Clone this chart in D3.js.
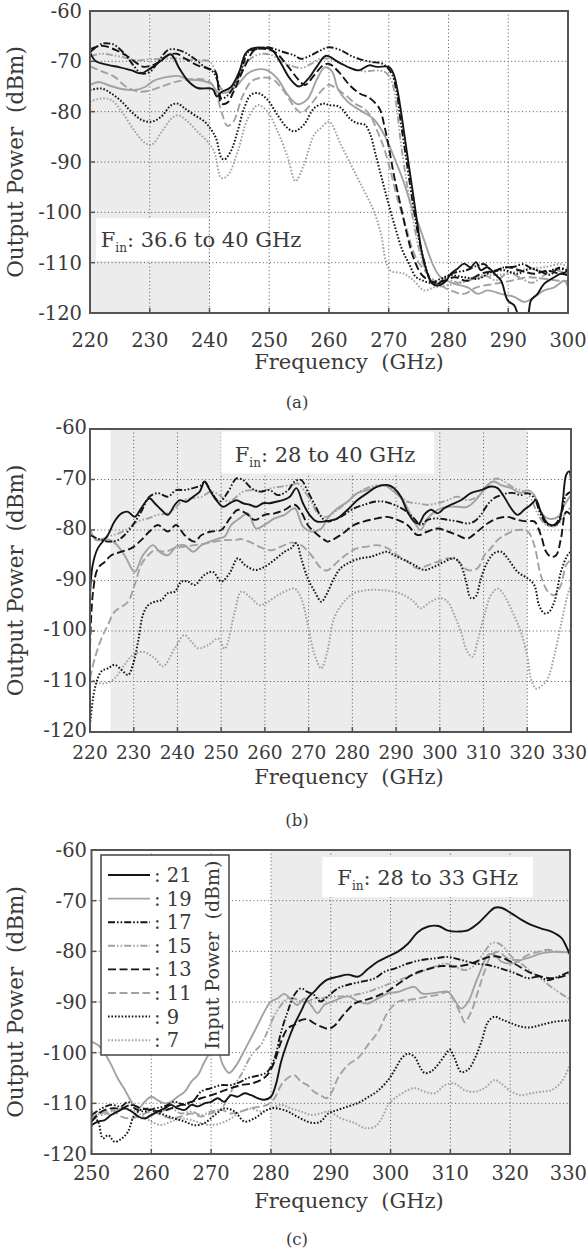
<!DOCTYPE html>
<html><head><meta charset="utf-8">
<script src="https://cdn.jsdelivr.net/npm/d3@7"></script>
<style>
body{margin:0;background:#fff}
svg{display:block}
text{font-family:"DejaVu Serif",serif;fill:#3a3a3a;white-space:pre}
</style></head>
<body><svg id="chart" width="588" height="1253"></svg>
<script>
// ---------- labels / ticks ----------
const inputPowers = ["21","19","17","15","13","11","9","7"];
const yTicks = [-120,-110,-100,-90,-80,-70,-60];
const xTicksA = [220,230,240,250,260,270,280,290,300];
const xTicksB = [220,230,240,250,260,270,280,290,300,310,320,330];
const xTicksC = [250,260,270,280,290,300,310,320,330];
const labelA = ["F","in",": 36.6 to 40 GHz"];
const labelB = ["F","in",": 28 to 40 GHz"];
const labelC = ["F","in",": 28 to 33 GHz"];

// ---------- panel (a) series: [GHz, dBm] ----------
const a21 = [[220,-68.2],[221,-70],[223,-70.7],[225,-71.2],[227,-71.8],[228.5,-72.4],[230,-71.5],[232,-69.8],[233.5,-68.6],[235,-71.5],[236.5,-74],[238,-75.3],[240.5,-75.5],[241.2,-77],[242,-76.1],[243.5,-75.2],[245,-72],[246,-68.5],[247,-67.5],[249,-67.3],[250.5,-67.8],[252,-70.5],[253.5,-73.5],[255,-75],[256.5,-73.5],[258,-71],[259.5,-68.9],[261.5,-70.1],[263.5,-71.3],[265,-71.8],[266.7,-70.8],[268,-71.1],[270,-71.1],[270.8,-72.5],[271.5,-76],[272.3,-82],[273.1,-88.6],[274,-95.8],[274.8,-102.4],[275.6,-108.3],[276.5,-112.2],[277.3,-114.2],[278.4,-114.5],[279.6,-113.6],[280.4,-112.2],[281.5,-111.2],[282.6,-110.2],[283.7,-110.9],[284.6,-109.9],[285.4,-111.5],[286.5,-110.9],[287.7,-112.2],[288.8,-113.6],[289.9,-117.5],[291,-118.5],[292,-121],[293.2,-120.5],[293.8,-117.5],[294.9,-116.2],[296,-114.2],[297.7,-112.9],[298.8,-112.2],[300,-112.5]];
const a19 = [[220,-74.7],[221.5,-74.1],[223,-74.7],[225.3,-75.5],[227.5,-75.7],[229.2,-75.1],[230.8,-73.8],[233,-73.1],[234.7,-72.9],[236.4,-73.6],[238.6,-73.8],[240.3,-74.5],[241.4,-76.1],[243.1,-76.1],[244.7,-74.7],[246.4,-72.4],[248.1,-71.6],[249.7,-71.8],[251.4,-73.5],[253,-76.5],[254.7,-78.5],[256.4,-77.5],[258,-73.5],[259.3,-71.2],[260.5,-72],[261.5,-75.5],[263.1,-78],[265.3,-79.8],[267.5,-81.5],[269.2,-84.5],[270.9,-89.1],[272.6,-94.3],[273.7,-98.4],[275.4,-103.7],[276.5,-107.6],[277.6,-110.9],[278.7,-112.9],[281,-114.2],[283.2,-114.9],[284.9,-116.2],[286.5,-115.5],[288.8,-116.2],[291,-116.8],[292.7,-117.8],[294.4,-116.8],[296,-115.5],[297.7,-114.9],[299.4,-113.6],[300,-114.9]];
const a17 = [[220,-68.2],[222,-66.5],[223.5,-66.5],[224.2,-66.8],[226,-68.8],[227.2,-70.7],[228.6,-72.4],[230,-72.1],[231.4,-70.1],[233,-67.8],[234.2,-67.6],[235.8,-68.2],[237.5,-69.5],[239.2,-71.1],[240.6,-72.1],[241.4,-74.1],[242,-77.4],[243.1,-76.7],[244.2,-74.7],[245.6,-70.8],[246.4,-68.2],[248.1,-67.5],[249.7,-67.2],[250.8,-67.5],[252.5,-68.2],[254.2,-68.8],[255.3,-69.5],[257,-68.8],[258.6,-67.8],[260,-67.2],[262,-67.8],[263.5,-68.8],[265,-69.5],[267,-70.1],[269,-70.5],[270.5,-72.5],[271.3,-76],[272,-82],[273,-90],[274,-98],[275,-105],[276,-110],[277,-113.5],[278,-114.3],[279.5,-113],[281,-112],[283,-111.5],[285,-110.5],[286,-110.3],[287.5,-111.8],[289,-111],[291,-110.8],[292.5,-110.3],[294,-111.2],[295.5,-111.8],[297,-112.4],[298.5,-111],[300,-111.6]];
const a15 = [[220,-69],[222,-68.5],[224,-68.8],[226,-69.3],[228,-69.8],[230,-69.6],[232,-69.5],[234,-69.4],[236,-69.6],[238,-69.8],[240,-70],[241,-72],[242,-75.5],[243,-75.8],[244.5,-74],[246,-70.5],[247.5,-69],[249,-68.5],[250.5,-68.8],[252,-70],[254,-71],[255.5,-71.3],[257,-70.5],[258.5,-69.5],[260,-69.5],[262,-70.5],[264,-71.5],[266,-72],[268,-71.8],[269.5,-72.2],[270.5,-74],[271.3,-79],[272,-86],[273,-94],[274,-101],[275,-107],[276,-111],[277,-113.5],[278,-114.5],[280,-113.5],[282,-114],[284,-113],[286,-112.5],[288,-113.5],[290,-112],[292,-113],[294,-114],[296,-112.5],[298,-111.5],[300,-112.5]];
const a13 = [[220,-67.6],[222,-66.9],[224,-67.6],[226,-68.8],[228,-70.5],[229,-71.1],[231,-70.5],[233,-68.8],[234.5,-68.5],[236,-69.5],[238,-70.8],[240,-71.5],[241,-72.1],[242,-78.4],[243,-78.2],[244,-76.1],[246,-70.8],[247.5,-67.8],[249,-67.5],[251,-68.2],[253,-70.8],[255,-73.8],[256,-74.7],[257.5,-72.8],[259,-70.8],[260,-70.5],[261.7,-72.2],[263.5,-74.8],[265.3,-76.5],[266.4,-77],[267.5,-78],[268.5,-79.5],[269.3,-83],[270,-87],[270.9,-92.8],[272,-98.7],[273.1,-104.6],[274.2,-109.2],[275.6,-112.5],[277.6,-113.9],[279.3,-113.6],[281,-112.9],[283.2,-113.6],[285.4,-112.2],[287.7,-111.6],[289.9,-110.9],[292.1,-111.6],[294.4,-112.2],[296.6,-111.6],[298.8,-112.2],[300,-111.6]];
const a11 = [[220,-71],[222,-72],[224,-73],[226,-75],[228,-76],[230,-75.8],[232,-75],[234,-74.2],[236,-73.7],[238,-73.5],[240,-74],[241,-76],[242,-80],[243,-82.8],[244,-82],[245.5,-77],[247,-74],[248.5,-73.3],[250.5,-73.5],[252.5,-76],[254.5,-79.5],[255.5,-80.2],[257,-78.5],[259,-75.5],[260,-74.7],[262.5,-76.5],[264.5,-78.5],[266,-79.5],[267,-81],[268.1,-83.9],[269.2,-87.2],[270.3,-91.8],[271.4,-97.1],[272.6,-101.7],[273.7,-106.3],[274.8,-109.6],[276.5,-112.2],[278.2,-114.2],[280.4,-115.5],[282.6,-116.2],[284.7,-114.9],[287.7,-114.2],[290.5,-113.6],[293.3,-112.9],[296,-113.2],[298.8,-113.6],[300,-113.6]];
const a9 = [[220,-75.7],[221.9,-75.4],[223.6,-76.4],[225.3,-78],[226.9,-80],[228.6,-81.6],[230.3,-82],[231.9,-81],[233.6,-78.7],[234.7,-78.4],[235.8,-79.3],[237.5,-80.7],[239.2,-82],[240.3,-83.6],[241.1,-85.3],[242,-89.2],[242.5,-89.5],[243.6,-87.8],[244.7,-83.9],[245.8,-79.3],[246.9,-76.7],[248.1,-76.3],[249.7,-77.6],[251.4,-80.7],[253.1,-83.3],[254.2,-83.9],[255.8,-82.6],[257.5,-79.3],[259.2,-78.4],[260,-78.7],[261.7,-79],[263.6,-81.5],[264.8,-82.3],[266,-82.6],[266.9,-84.5],[267.8,-88.5],[269,-94],[270,-98.5],[271.2,-103.5],[272.3,-107.6],[273.4,-110.2],[274.5,-112.8],[275.6,-113.5],[277,-114],[278.7,-113.2],[280.4,-112.5],[282.6,-112.9],[284.9,-113.2],[287.1,-111.9],[289.3,-111.5],[291.5,-112.2],[293.8,-111.2],[296,-111.9],[298.2,-111.2],[300,-111.5]];
const a7 = [[220,-78],[221.9,-77.4],[223.6,-77.7],[225.3,-80],[227.5,-83.9],[229.2,-86.2],[230.3,-86.6],[232,-84],[233.6,-81.4],[234.7,-80.7],[236.4,-82],[238,-84],[239.7,-86],[240.8,-88],[242,-93.2],[243.1,-92.6],[244.7,-88],[246.4,-81.4],[248.1,-78.7],[249.7,-80],[251.4,-83.9],[253.1,-89.1],[254.4,-93.8],[255.8,-90.5],[257.5,-84.6],[258.6,-83.3],[260,-82],[262,-86.6],[264.2,-91.8],[265.9,-95.8],[267.5,-99.7],[268.7,-104.3],[269.5,-109.6],[270.3,-111.6],[272.6,-112.2],[274.2,-113.6],[275.9,-115.5],[277.6,-114.9],[279.8,-114.5],[283.2,-113.6],[286.5,-112.6],[289.9,-112.2],[293.2,-111.2],[296,-110.9],[298.8,-110.3],[300,-110.9]];

// ---------- panel (b) series ----------
const b21 = [[220,-93],[220.6,-87],[221.8,-83.6],[224.1,-81],[225.6,-78.3],[227.2,-76.7],[228.7,-76.4],[230.2,-77.4],[231.7,-75.7],[233.6,-73.7],[234.8,-74.7],[236.3,-76],[237.8,-77],[239.4,-75],[240.5,-74.1],[242,-74.4],[243.6,-73.4],[245.1,-72.4],[246.2,-70.4],[247.4,-72.1],[248.9,-74.1],[250.4,-75.4],[252,-74.7],[253.5,-74.1],[255,-74.7],[256.5,-75],[258,-75.4],[259.6,-74.7],[261.1,-74.7],[262.6,-74.4],[264.1,-74.1],[265.7,-73.4],[267.2,-71.7],[268.7,-74.7],[270.2,-77],[271.8,-78.3],[273.7,-78.3],[275.6,-78],[276.6,-77.7],[278.9,-76],[281.1,-74.1],[283.4,-72.7],[285.7,-71.4],[288,-71.1],[289.5,-71.7],[291.1,-73.4],[292.6,-76.4],[294.1,-78.3],[295.3,-78.7],[296.4,-77],[298,-76],[299.5,-76.7],[301,-75.7],[302.5,-75],[304.8,-74.1],[307.1,-72.7],[309.4,-72.1],[311.7,-71.4],[313.2,-71.7],[314.7,-73.4],[316.3,-75.7],[317.8,-77],[319.3,-76],[320.8,-75],[322,-74.1],[323.1,-76.4],[324.7,-78.7],[326.2,-79],[327.3,-78.3],[328.1,-74.4],[328.9,-69.1],[329.6,-68.4],[330,-70.4]];
const b19 = [[220,-79.7],[221.4,-82],[223.4,-81.7],[225.6,-82.5],[227.9,-85],[230.2,-88.3],[232.1,-85],[234.4,-83],[235.9,-84.3],[237.8,-85],[239.7,-83.3],[241.6,-83],[243.6,-84.3],[245.5,-83],[247.4,-82.3],[249.3,-81.7],[250.8,-81.3],[252.3,-79],[254.2,-77.7],[256.1,-76.7],[258,-79.7],[259.9,-79],[262.2,-77.7],[264.5,-77],[266.8,-75.7],[268.7,-79.3],[270.6,-80.3],[272.9,-79.7],[274.3,-77.7],[276.6,-75.7],[278.9,-74.4],[281.1,-72.7],[283.4,-72.1],[285.7,-71.4],[287.3,-71.1],[289.5,-72.4],[291.8,-74.4],[294.1,-78.3],[295.6,-80],[297.2,-77.7],[299.5,-76],[301.8,-75.4],[304,-75.4],[306.3,-75.4],[308.6,-73.7],[310.9,-71.1],[312.4,-70.4],[314,-71.1],[316.3,-71.7],[318.5,-72.7],[320.1,-72.1],[321.6,-73.1],[323.1,-76.4],[324.7,-77.7],[327,-77.4],[328.5,-75],[330,-73.1]];
const b17 = [[220,-81],[221.8,-81.7],[224.1,-82.3],[226.4,-82],[227.9,-81],[229.8,-79],[231.7,-76.4],[233.6,-73.4],[235.5,-72.7],[237.8,-73.4],[239.7,-72.1],[241.6,-72.1],[243.6,-71.7],[245.5,-71.1],[246.2,-70.4],[247.7,-72.4],[249.6,-74.4],[251.6,-72.4],[253.5,-69.8],[255,-70.1],[256.9,-71.7],[258.8,-72.4],[261.1,-72.1],[263,-73.1],[265.3,-72.1],[266.8,-70.4],[268.3,-70.1],[269.8,-72.4],[271.4,-75],[272.9,-77.4],[274.3,-78.3],[277.3,-77.4],[280.4,-75.7],[282.7,-75],[285,-74.4],[287.3,-74.4],[289.5,-75],[291.8,-76],[294.1,-77.7],[295.6,-79],[297.2,-78],[299.5,-77.7],[301.8,-78],[304,-78.3],[306.3,-78.7],[307.9,-78.3],[309.4,-77],[310.9,-75],[312.4,-73.7],[314,-73.1],[315.5,-72.7],[317,-72.7],[318.5,-73.1],[320.1,-72.7],[321.6,-73.7],[323.1,-77],[324.7,-79],[326.2,-79],[327.7,-77],[328.9,-73.1],[330,-72.4]];
const b15 = [[220,-80.3],[221.8,-82],[224.1,-81.3],[226.4,-80.7],[228.7,-79.7],[231,-78.3],[233.3,-77.7],[235.5,-77],[237.8,-76.7],[239.4,-75.7],[241.3,-74.1],[243.2,-73.7],[245.5,-73.4],[247.7,-72.4],[249.6,-73.1],[251.6,-74.4],[253.5,-73.4],[255,-72.4],[257.3,-72.1],[259.2,-72.4],[261.5,-71.7],[263.7,-71.4],[266,-71.1],[267.6,-70.8],[269.1,-72.4],[270.6,-74.4],[272.1,-76.7],[274,-77.4],[276.6,-76],[278.9,-74.4],[281.1,-72.7],[283.4,-71.7],[285.7,-71.1],[288,-71.4],[290.3,-72.7],[292.6,-74.4],[294.9,-74.7],[297.2,-75],[299.5,-74.7],[301.8,-74.1],[304,-73.4],[306.3,-74.1],[308.6,-73.4],[310.9,-71.4],[312.8,-69.8],[314.7,-70.4],[317,-71.7],[319.3,-72.4],[320.8,-73.7],[322.3,-76.7],[323.9,-78.7],[325.4,-79.3],[326.9,-79],[328.5,-77],[330,-75.4]];
const b13 = [[220,-103],[220.7,-92.2],[221.8,-87.6],[223.4,-86.3],[224.9,-85],[227.2,-84.3],[229.5,-83.6],[231.7,-82],[233.6,-80.3],[235.5,-79],[237.8,-80.3],[239.7,-79],[241.6,-81],[243.9,-82.3],[245.5,-81],[247.7,-80.3],[250,-80],[252,-77.7],[253.8,-76],[255.7,-76.7],[257.7,-78],[259.9,-77],[262.2,-76.7],[264.5,-76],[266.8,-75],[268.3,-76.4],[269.8,-79],[272.1,-81],[273.7,-82],[274.3,-82.3],[277.3,-81],[280.4,-79],[282.7,-78.3],[285.7,-77.7],[288,-77.4],[290.3,-78],[292.6,-79],[294.9,-81],[297.2,-80.3],[299.5,-79.7],[301.8,-80.3],[304,-81],[306.3,-81.7],[308.6,-80.3],[310.9,-78.7],[313.2,-77.7],[315.5,-77.4],[317.8,-78],[320.1,-78.3],[321.6,-78.3],[323.1,-81],[324.3,-84.3],[325.4,-85.3],[326.6,-85],[327.7,-81.7],[328.9,-76.4],[330,-77]];
const b11 = [[220,-109.4],[221.1,-105.4],[222.6,-101.5],[224.1,-98.8],[225.6,-96.2],[227.2,-95.2],[228.7,-94.2],[230.2,-90.9],[231.7,-86.9],[233.3,-85],[234.8,-84],[237.1,-84.3],[239.4,-83.6],[241.6,-83.3],[243.9,-83],[246.2,-82.7],[248.5,-82.3],[250.8,-82],[253.1,-82],[254.6,-81.8],[256.9,-82.5],[259.2,-83.5],[261.5,-84],[263.7,-83.3],[266,-82.5],[268.3,-83],[270.6,-85],[272.9,-87.6],[274.3,-88],[276.6,-86.3],[278.9,-84.7],[281.1,-83.6],[283.4,-83.3],[285.7,-83],[288,-83.6],[290.3,-85],[292.6,-86.3],[294.9,-87.6],[297.2,-87],[299.5,-86.3],[301.8,-85.6],[304,-86],[306.3,-87.9],[308.6,-87.6],[310.2,-85],[311.7,-83.6],[313.2,-82],[315.5,-80.7],[317.8,-80],[320.1,-80.3],[321.6,-83],[323.1,-89],[324.7,-92.2],[326.2,-92.9],[327.7,-90.9],[328.9,-86.9],[330,-85.9]];
const b9 = [[220,-118.6],[221.1,-111.4],[222.6,-108],[224.1,-107.4],[225.6,-106.7],[227.2,-107.7],[228.7,-108.7],[229.8,-106.7],[231,-102.1],[232.1,-96.8],[233.3,-94.9],[234.8,-94.2],[236.3,-93.9],[237.8,-92.5],[239.4,-92.2],[240.9,-90.2],[242.4,-90.2],[243.9,-90.9],[246.2,-88.9],[248.1,-88.3],[250,-90.2],[251.9,-88.6],[253.8,-85.6],[255.4,-86.9],[257.7,-87.9],[259.9,-87.3],[262.2,-85.9],[264.5,-84.3],[266,-83.6],[267.2,-82.6],[268.3,-85.6],[269.8,-89.6],[271.4,-92.2],[272.9,-94.2],[274,-92.9],[275.8,-89.6],[277.3,-87.6],[279.6,-86.3],[281.9,-85.6],[284.2,-85.3],[286.5,-84.6],[288,-84.3],[289.5,-85],[291.8,-85.9],[294.1,-86.9],[296.4,-87.9],[298.7,-87.3],[301,-86.3],[303.3,-85.6],[304.8,-86.9],[306,-90.2],[307.1,-93.5],[308.2,-93.2],[309.4,-89.6],[310.9,-86.3],[312.4,-84.6],[314,-84.3],[315.5,-85.6],[317.8,-88.3],[320.1,-89.6],[321.6,-90.9],[322.7,-94.9],[323.9,-96.5],[325,-96.2],[326.2,-94.2],[327.7,-88.3],[329.2,-85],[330,-84.3]];
const b7 = [[220,-109.4],[221.1,-110],[223.4,-110.4],[225.6,-109.4],[227.9,-106.7],[229.8,-104.8],[232.1,-104.1],[234.8,-105.4],[236.7,-107],[239.4,-103.4],[241.6,-100.8],[243.2,-102.1],[244.7,-103.4],[247,-102.8],[249.3,-101.5],[250.8,-103.5],[253.1,-96.2],[254.6,-92.2],[256.9,-93.5],[258.8,-94.9],[260.7,-94.2],[263,-92.9],[265.3,-91.9],[266.8,-91.6],[268.3,-93.5],[269.8,-98.8],[271.4,-104.8],[272.9,-107.4],[274.3,-104],[275.8,-97.5],[278.1,-94.2],[280.4,-92.5],[283.4,-91.9],[286.5,-91.9],[289.5,-92.2],[291.8,-92.9],[294.1,-94.2],[295.6,-95.5],[297.9,-94.2],[300.2,-93.5],[301.8,-94.2],[303.3,-96.8],[304.8,-100.1],[306.3,-104.1],[307.5,-105.1],[308.6,-102.1],[310.2,-96.8],[311.7,-92.9],[313.2,-91.6],[314.7,-92.9],[316.6,-96.2],[318.5,-100.1],[320.1,-105.4],[320.8,-109.4],[322,-111.4],[323.5,-110.7],[324.7,-109.4],[326.2,-104.8],[327.7,-98.8],[329.2,-92.9],[330,-90.9]];

// ---------- panel (c) series ----------
const c21 = [[250,-114.3],[251.1,-113.6],[252.2,-113.3],[253.3,-112.3],[254.4,-111.6],[255.6,-111],[256.7,-111.6],[257.8,-112.6],[258.9,-113],[260,-112.3],[261.1,-111.6],[262.2,-111],[263.3,-110.3],[264.4,-111],[265.6,-111.3],[266.7,-110.3],[267.8,-110.6],[268.9,-110],[270,-109.7],[271.1,-109],[272.2,-109.7],[273.3,-108.4],[274.4,-108.7],[275.6,-108],[276.7,-108.4],[277.8,-109],[278.9,-109.3],[280,-108.7],[280.8,-106.4],[281.7,-101.8],[282.8,-97.8],[283.9,-94.5],[285,-91.9],[286.1,-89.3],[287.2,-88],[288.3,-86.6],[289.4,-85.6],[291.2,-85],[292.9,-84.6],[294.6,-85],[296.2,-83.5],[297.9,-82],[299.6,-81],[301.3,-80],[302.9,-78.5],[304.6,-76.2],[306.3,-75.1],[308,-75],[309.6,-75.9],[311.3,-76.1],[313,-75.8],[314.6,-74.5],[316.3,-72.5],[317.4,-71.4],[318.5,-71.4],[320.2,-72.5],[321.9,-73.8],[323.5,-74.8],[325.2,-75.5],[326.9,-76.1],[328.6,-77.4],[329.4,-79.1],[330,-80.7]];
const c19 = [[250,-97.8],[251.1,-98.5],[252.2,-100.1],[253.3,-102.4],[254.4,-105.1],[255.6,-107.4],[256.7,-109.7],[257.8,-111],[258.9,-109.7],[260,-108.7],[261.1,-109.4],[262.2,-110],[263.3,-109.7],[264.4,-108.7],[265.6,-107.7],[266.7,-105.7],[267.8,-104.4],[268.9,-101.8],[270,-99.8],[271,-99.5],[272,-102.5],[273,-104],[274.2,-102.5],[275.6,-99.5],[276.7,-97],[277.8,-94.5],[278.9,-91.9],[280,-89.9],[281.1,-89.3],[282.2,-88.4],[283.3,-89.5],[284.4,-90.6],[285.6,-89.3],[286.7,-90.6],[287.8,-92.2],[288.9,-90.6],[290.3,-89.9],[292.9,-88.9],[294.6,-89.9],[296.2,-90.3],[297.9,-89.3],[299.6,-88.3],[301.3,-88],[302.9,-87.3],[304,-87],[305.2,-88.3],[306.8,-88.3],[308.5,-88],[309.6,-88],[310.7,-89.6],[311.8,-91.3],[313,-89.9],[314.1,-86.6],[315.2,-83.4],[316.3,-80.7],[317.4,-80.7],[318.5,-82],[320.2,-82.4],[321.9,-81.7],[323.5,-81.1],[325.2,-80.4],[327.4,-80.1],[330,-80.2]];
const c17 = [[250,-112.3],[251.7,-111],[253.3,-110.3],[255,-110.6],[256.1,-109.7],[257.2,-111],[258.9,-111.6],[260.6,-111],[262.2,-110.6],[263.9,-109.7],[265.6,-110.3],[267.2,-109.3],[268.3,-107.7],[270,-107],[271.7,-106.4],[273.3,-106.4],[275,-105.7],[276.1,-105],[277.2,-104.7],[278.3,-104.4],[279.4,-103.8],[280.6,-101.1],[281.7,-95.9],[282.8,-91.9],[283.9,-88.6],[285,-87.3],[286.1,-88],[287.2,-88.6],[288.3,-89.9],[289.4,-89],[291.2,-87.3],[292.9,-86.6],[295.1,-86],[297.4,-85.3],[299,-84],[300.7,-83.4],[302.9,-82.4],[305.2,-81.7],[307.4,-81.4],[309.6,-81.1],[311.8,-81.7],[314.1,-82.4],[316.3,-82.7],[318.5,-83.4],[320.8,-84.3],[323,-85.3],[324.7,-85],[326.3,-85.7],[328,-85],[330,-84]];
const c15 = [[250,-113],[251.7,-111.6],[253.3,-112.3],[255,-111],[256.7,-111.6],[258.3,-113],[260,-112.3],[261.7,-111.6],[263.3,-111],[265,-112],[266.7,-111.6],[268.3,-112.3],[270,-111.6],[271.7,-111],[272.8,-109],[273.9,-106.4],[275,-104.4],[276.1,-101.8],[277.2,-99.8],[278.3,-98.5],[279.4,-95.9],[280.6,-92.6],[281.7,-90.6],[282.8,-89.3],[283.9,-89.3],[285,-89.9],[286.1,-89.9],[287.2,-89.3],[288.3,-89.3],[290.3,-88.9],[291.8,-88.9],[294,-88.6],[296.2,-88],[298.5,-87],[300.7,-86],[302.9,-85],[305.2,-84],[307.4,-83],[309.1,-82.4],[310.7,-83],[312.4,-83.7],[314.1,-82.7],[315.7,-80.1],[316.9,-78.4],[318,-78.4],[319.1,-79.4],[320.2,-81],[321.9,-82.5],[323.5,-84],[325.2,-85.5],[327.4,-87.5],[330,-89.5]];
const c13 = [[250,-113.6],[251.7,-111.6],[253.3,-111],[255,-111],[256.7,-110.3],[258.3,-111],[260,-111.3],[261.7,-111.6],[263.3,-111],[265,-110.3],[266.7,-109.7],[268.3,-109],[270,-108.4],[271.7,-107.7],[273.3,-107],[275,-106.4],[276.7,-106.1],[278.3,-105.4],[279.4,-104.4],[280.6,-101.8],[281.7,-97.8],[282.8,-95.2],[283.9,-94.5],[285,-93.6],[286.1,-93.4],[287.2,-94.2],[288.3,-94.8],[289.6,-95.3],[290.5,-94.8],[292.3,-92.3],[294,-90.3],[295.7,-89.6],[297.4,-89],[299.6,-87.8],[301.8,-86],[304,-84.4],[306.3,-83.5],[308.5,-82.9],[310.7,-83],[313,-82.6],[315.2,-81.6],[316.9,-81],[318.5,-81.2],[320.8,-82.5],[323,-84],[325.2,-85],[327.4,-85.3],[330,-84.5]];
const c11 = [[250,-113.6],[251.7,-112],[253.3,-111.3],[255,-112.6],[256.7,-113],[258.3,-112.3],[260,-111.6],[261.7,-112.3],[263.3,-113],[265,-112.6],[266.7,-112],[268.3,-112.6],[270,-112],[271.7,-111.3],[273.3,-112],[275,-111.6],[276.7,-111],[278.3,-110.6],[279.4,-110.3],[280.6,-109],[281.7,-106.4],[282.8,-105],[283.9,-104.4],[285,-105.7],[286.1,-106.4],[287.2,-107.7],[288.3,-108.4],[289.3,-109],[290.3,-107.5],[291.2,-105],[292.9,-102.4],[294.6,-101],[296.2,-98.5],[297.9,-95.9],[299.6,-91.9],[301.3,-89.9],[302.9,-89.6],[304.6,-89.3],[306.3,-88.9],[307.9,-88.6],[309.6,-88],[310.7,-89.9],[311.8,-92.6],[312.4,-94],[313.5,-91.9],[314.6,-88],[315.7,-84],[316.9,-80.7],[318,-80.1],[319.6,-81.4],[321.3,-81.7],[323,-80.7],[324.7,-80.1],[326.3,-79.7],[328,-80.1],[330,-80.3]];
const c9 = [[250,-112.3],[251.1,-113.6],[251.9,-116.9],[252.8,-116.3],[253.9,-117.6],[255,-117],[256.1,-115.6],[257.2,-112.3],[258.9,-111],[260.6,-111.6],[262.2,-112.3],[263.9,-113],[265.6,-113.6],[267.2,-114.3],[268.9,-113.9],[270.6,-112.3],[272.2,-111],[273.9,-111.6],[275.6,-113.6],[277.2,-113],[278.9,-111.6],[280,-111],[281.1,-111],[282.8,-111.6],[283.9,-112.3],[285,-113],[286.1,-113.6],[287.2,-113.9],[288.3,-113.6],[289.6,-112],[291.2,-111.3],[292.9,-110.6],[294.6,-109.9],[296.2,-108.8],[297.9,-107.5],[299.6,-105.4],[300.7,-103.4],[301.8,-101.2],[302.9,-100.2],[304,-100.8],[304.9,-102.8],[305.7,-104],[306.8,-103.7],[307.9,-102.4],[309.1,-100.5],[309.9,-99.4],[310.7,-101.1],[311.8,-103.8],[313,-103.3],[314.1,-101.1],[315.2,-97.8],[316.3,-93.9],[317.4,-92.9],[318.5,-93.4],[320.2,-94.2],[321.9,-94.9],[323.5,-95],[325.2,-94.5],[327.4,-93.9],[330,-93.6]];
const c7 = [[250,-111.6],[251.7,-112.3],[253.3,-111.6],[255,-111],[256.7,-111.3],[258.3,-112.3],[260,-113.6],[261.7,-114.3],[263.3,-113.6],[265,-113],[266.7,-113.3],[268.3,-113.9],[270,-114.3],[271.7,-113.9],[273.3,-113],[275,-111.6],[276.7,-111],[278.3,-111.6],[280,-111],[281.7,-110.3],[283.3,-111],[285,-111.6],[286.7,-112.3],[288.3,-112],[289.6,-111.6],[291.8,-113],[294,-113.9],[295.7,-114.9],[297.4,-114.6],[298.5,-113],[299.6,-110.3],[300.7,-109],[302.4,-107.7],[304,-107],[305.7,-107.7],[307.4,-108],[309.1,-106.4],[310.7,-106.1],[312.4,-107.4],[314.1,-107.7],[315.7,-107],[317.4,-105.4],[318.5,-106.1],[320.2,-107.7],[321.9,-108.4],[323.5,-108],[325.2,-107.7],[326.9,-107.4],[328.6,-105.7],[330,-102.4]];

// ---------- styles ----------
const BLACK = "#151515", GRAY = "#a2a2a2";
const DASHDOT = "7,2,1.6,2,1.6,2", DASH = "8,3.5", DOT = "1.6,1.8";
const styles = [
  {c:BLACK, d:null, w:1.9}, {c:GRAY, d:null, w:1.9},
  {c:BLACK, d:DASHDOT, w:1.9}, {c:GRAY, d:DASHDOT, w:1.9},
  {c:BLACK, d:DASH, w:1.9}, {c:GRAY, d:DASH, w:1.9},
  {c:BLACK, d:DOT, w:2.0}, {c:GRAY, d:DOT, w:2.0}
];
const drawOrder = [7,5,3,1,6,4,2,0];

const panels = [
  {key:"a", dom:[220,300], xr:[90,568], yr:[313,11], xt:xTicksA, series:[a21,a19,a17,a15,a13,a11,a9,a7],
   shade:[220,240], box:[221,239.8,-101.2,-109.6], lab:labelA, labPos:[221.8,-106.9],
   ytx:82, yOff:7, xtBase:347, xtSize:19.5, xTitle:369, cap:408, capText:"(a)"},
  {key:"b", dom:[220,330], xr:[90,571], yr:[732,429], xt:xTicksB, series:[b21,b19,b17,b15,b13,b11,b9,b7],
   shade:[224.7,320], box:[250,298.7,-60.5,-68.8], lab:labelB, labPos:[253.1,-66.6],
   ytx:87, yOff:5, xtBase:759, xtSize:18.5, xTitle:784, cap:826, capText:"(b)"},
  {key:"c", dom:[250,330], xr:[91.5,570], yr:[1154,850], xt:xTicksC, series:[c21,c19,c17,c15,c13,c11,c9,c7],
   shade:[280,330], box:[288.6,323.8,-61.4,-69.3], lab:labelC, labPos:[291.1,-67.0],
   ytx:87, yOff:7, xtBase:1180, xtSize:19.5, xTitle:1208, cap:1245, capText:"(c)", legend:true}
];

const svg = d3.select("#chart");

panels.forEach(p => {
  const x = d3.scaleLinear().domain(p.dom).range(p.xr);
  const y = d3.scaleLinear().domain([-120,-60]).range(p.yr);
  const g = svg.append("g");
  const [x0,x1] = p.xr, [yb,yt] = p.yr;

  g.append("rect").attr("x", x(p.shade[0])).attr("y", yt)
    .attr("width", x(p.shade[1]) - x(p.shade[0])).attr("height", yb - yt)
    .attr("fill", "#ececec");

  g.selectAll(".gx").data(p.xt.slice(1,-1)).enter().append("line")
    .attr("x1", d=>x(d)).attr("x2", d=>x(d)).attr("y1", yt).attr("y2", yb)
    .attr("stroke","#555").attr("stroke-width",1).attr("stroke-dasharray","1,2.6");
  g.selectAll(".gy").data(yTicks.slice(1,-1)).enter().append("line")
    .attr("y1", d=>y(d)).attr("y2", d=>y(d)).attr("x1", x0).attr("x2", x1)
    .attr("stroke","#555").attr("stroke-width",1).attr("stroke-dasharray","1,2.6");

  g.append("rect").attr("x", x(p.box[0])).attr("y", y(p.box[2]))
    .attr("width", x(p.box[1]) - x(p.box[0])).attr("height", y(p.box[3]) - y(p.box[2]))
    .attr("fill","#fff");

  const cid = "clip-" + p.key;
  svg.append("clipPath").attr("id", cid).append("rect")
    .attr("x", x0).attr("y", yt).attr("width", x1-x0).attr("height", yb-yt);

  const line = d3.line().x(d=>x(d[0])).y(d=>y(d[1])).curve(d3.curveCatmullRom.alpha(0.5));
  const lg = g.append("g").attr("clip-path", `url(#${cid})`);
  drawOrder.forEach(i => {
    const s = styles[i];
    lg.append("path").datum(p.series[i]).attr("d", line)
      .attr("fill","none").attr("stroke", s.c).attr("stroke-width", s.w)
      .attr("stroke-dasharray", s.d).attr("stroke-linejoin","round");
  });

  const t = g.append("text").attr("x", x(p.labPos[0])).attr("y", y(p.labPos[1]))
    .attr("font-size", 21).attr("fill","#222");
  t.append("tspan").text(p.lab[0]);
  t.append("tspan").text(p.lab[1]).attr("font-size", 12).attr("dy", 5);
  t.append("tspan").text(p.lab[2]).attr("dy", -5);

  g.append("rect").attr("x", x0).attr("y", yt).attr("width", x1-x0).attr("height", yb-yt)
    .attr("fill","none").attr("stroke","#555").attr("stroke-width",2);
  g.selectAll(".tx").data(p.xt).enter().append("line")
    .attr("x1", d=>x(d)).attr("x2", d=>x(d)).attr("y1", yb).attr("y2", yb-5)
    .attr("stroke","#555").attr("stroke-width",1.5);
  g.selectAll(".ty").data(yTicks).enter().append("line")
    .attr("y1", d=>y(d)).attr("y2", d=>y(d)).attr("x1", x0).attr("x2", x0+5)
    .attr("stroke","#555").attr("stroke-width",1.5);

  g.selectAll(".xl").data(p.xt).enter().append("text")
    .attr("x", d=>x(d)).attr("y", p.xtBase).attr("text-anchor","middle")
    .attr("font-size", p.xtSize).text(d=>d)
    .each(function(){
      const b = this.getBBox();
      if (b.x + b.width > 587) d3.select(this).attr("x", +d3.select(this).attr("x") - (b.x + b.width - 587));
    });
  g.selectAll(".yl").data(yTicks).enter().append("text")
    .attr("x", p.ytx).attr("y", d=>y(d)+p.yOff).attr("text-anchor","end")
    .attr("font-size", 19.5).text(d=>d);

  g.append("text").attr("transform", `translate(23,${(yt+yb)/2}) rotate(-90)`)
    .attr("text-anchor","middle").attr("font-size", 21.5).text("Output Power  (dBm)");
  g.append("text").attr("x", 349).attr("y", p.xTitle).attr("text-anchor","middle")
    .attr("font-size", 21).text("Frequency  (GHz)");
  g.append("text").attr("x", 297).attr("y", p.cap).attr("text-anchor","middle")
    .attr("font-size", 16.5).attr("fill","#222").text(p.capText);

  if (p.legend) {
    const lx = 101, ly = 855, lw = 128, lh = 200;
    const L = g.append("g");
    L.append("rect").attr("x", lx).attr("y", ly).attr("width", lw).attr("height", lh)
      .attr("fill","#fff").attr("stroke","#444").attr("stroke-width",1.5);
    inputPowers.forEach((lab, i) => {
      const ry = 875 + i * 23.6;
      const s = styles[i];
      L.append("line").attr("x1", 108).attr("x2", 150).attr("y1", ry).attr("y2", ry)
        .attr("stroke", s.c).attr("stroke-width", s.w).attr("stroke-dasharray", s.d);
      L.append("text").attr("x", 154).attr("y", ry + 7).attr("font-size", 19.5)
        .attr("fill","#222").text(": " + lab);
    });
    L.append("text").attr("transform", `translate(219,955) rotate(-90)`)
      .attr("text-anchor","middle").attr("font-size", 19).attr("fill","#333")
      .text("Input Power  (dBm)");
  }
});
</script>
</body></html>
